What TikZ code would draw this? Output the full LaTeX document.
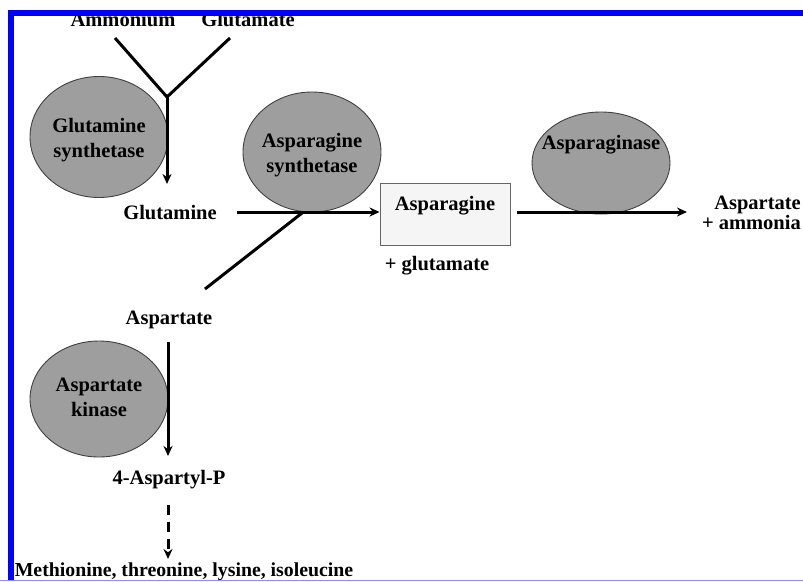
\documentclass[tikz,border=0pt]{standalone}
\usepackage{fontspec}
\setmainfont{Liberation Serif}
\usetikzlibrary{arrows.meta,shapes.geometric}
\begin{document}
\begin{tikzpicture}[x=1pt,y=-1pt,
  lbl/.style={font=\fontsize{20.5}{25}\selectfont\bfseries, inner sep=0pt, align=center},
  enz/.style={ellipse, draw=black!75, line width=0.9pt, fill=black!38, inner sep=0pt},
  flow/.style={line width=3pt, -{Stealth[length=10pt,width=9pt]}},
  plain/.style={line width=3pt},
  dflow/.style={line width=3pt, dash pattern=on 10pt off 7pt, -{Stealth[length=10pt,width=9pt]}}
]
\useasboundingbox (0,0) rectangle (803,581);
\fill[white] (0,0) rectangle (803,581);

% enzymes
\node[enz, minimum width=138pt, minimum height=121pt] (gs) at (99,137) {};
\node[lbl] (gst) at (99,140) {Glutamine\\synthetase};
\node[enz, minimum width=138pt, minimum height=120pt] (as) at (312,152) {};
\node[lbl] (ast) at (312,155) {Asparagine\\synthetase};
\node[enz, minimum width=138pt, minimum height=102pt] (ase) at (601,163) {};
\node[lbl] (aset) at (601,145) {Asparaginase};
\node[enz, minimum width=138pt, minimum height=116pt] (ak) at (99,399) {};
\node[lbl] (akt) at (99,397) {Aspartate\\kinase};

% metabolites
\node[lbl, anchor=base] (amm) at (123,26) {Ammonium};
\node[lbl, anchor=base] (glu) at (248,26) {Glutamate};
\node[lbl, anchor=base] (gln) at (170,219) {Glutamine};
\node[draw=black!60, line width=0.9pt, fill=black!4, minimum width=130pt, minimum height=62pt, inner sep=0pt] (asn) at (445,214) {};
\node[lbl, anchor=base] (asnt) at (445,210) {Asparagine};
\node[lbl, anchor=base] (pglu) at (437,270) {+ glutamate};
\node[lbl, anchor=base east] (aspout) at (801,209) {Aspartate};
\node[lbl, anchor=base east] (amout) at (801,229) {+ ammonia};
\node[lbl, anchor=base] (asp) at (169,324) {Aspartate};
\node[lbl, anchor=base] (ap) at (169,484) {4-Aspartyl-P};
\node[lbl, anchor=base, font=\fontsize{19.8}{24}\selectfont\bfseries] (met) at (184,576) {Methionine, threonine, lysine, isoleucine};

% connectors
\coordinate (j) at (167,97);
\coordinate (a1) at (115,38);
\coordinate (g1) at (230,38);
\coordinate (gt) at (167,184);
\draw[plain, line join=miter] (a1) -- (j) -- (g1);
\draw[flow] (j) -- (gt);
\coordinate (gs1) at (237,212);
\coordinate (asnw) at (asn.west |- gs1);
\draw[flow] (gs1) -- (asnw);
\coordinate (aspl) at (205,289);
\coordinate (aspj) at (302,213);
\draw[plain] (aspl) -- (aspj);
\coordinate (o1) at (517,212);
\coordinate (o2) at (687,212);
\draw[flow] (o1) -- (o2);
\coordinate (k1) at (168,342);
\coordinate (k2) at (168,456);
\draw[flow] (k1) -- (k2);
\coordinate (d1) at (168,505);
\coordinate (d2) at (168,559);
\draw[dflow] (d1) -- (d2);

% border
\draw[blue, line width=6pt] (11,581) -- (11,12.5) -- (803,12.5);
\draw[blue!45, line width=1.2pt] (0,580.4) -- (803,580.4);
\end{tikzpicture}
\end{document}
